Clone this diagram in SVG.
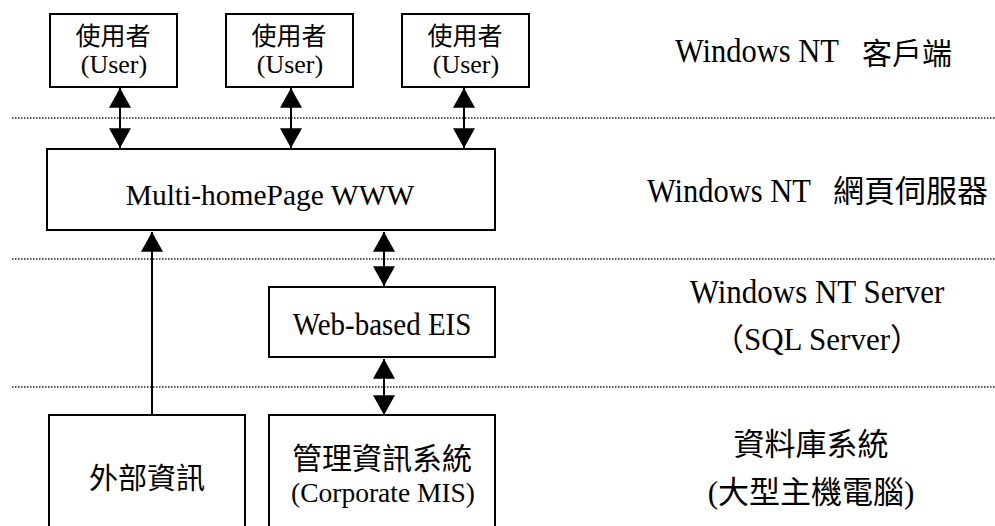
<svg xmlns="http://www.w3.org/2000/svg" width="995" height="526" viewBox="0 0 995 526">
<style>
.box{fill:#fff;stroke:#000;stroke-width:2}
.dot{stroke:#222;stroke-width:1.3;stroke-dasharray:1.5 1.5;fill:none}
.ln{stroke:#000;stroke-width:2;fill:none}
.lat{font-family:'Liberation Serif','Times New Roman',serif;fill:#000}
.cjk{font-family:'Noto Sans CJK TC','Noto Sans CJK SC',sans-serif;fill:#000}
.mid{text-anchor:middle}
</style>
<defs>
<marker id="ah" markerUnits="userSpaceOnUse" markerWidth="20" markerHeight="22" refX="18" refY="10" orient="auto-start-reverse" viewBox="0 0 18 20">
<path d="M0,0 L18,10 L0,20 Z" fill="#000"/>
</marker>
</defs>
<rect width="995" height="526" fill="#fff"/>
<g id="separators">
<line class="dot" x1="12" y1="118" x2="995" y2="118"/>
<line class="dot" x1="12" y1="259" x2="995" y2="259"/>
<line class="dot" x1="12" y1="387" x2="995" y2="387"/>
</g>
<g id="connectors">
<line class="ln" x1="120" y1="88" x2="120" y2="148" marker-start="url(#ah)" marker-end="url(#ah)"/>
<line class="ln" x1="291" y1="88" x2="291" y2="148" marker-start="url(#ah)" marker-end="url(#ah)"/>
<line class="ln" x1="464" y1="88" x2="464" y2="148" marker-start="url(#ah)" marker-end="url(#ah)"/>
<line class="ln" x1="384" y1="232" x2="384" y2="286" marker-start="url(#ah)" marker-end="url(#ah)"/>
<line class="ln" x1="384" y1="359" x2="384" y2="415" marker-start="url(#ah)" marker-end="url(#ah)"/>
<line class="ln" x1="152" y1="415" x2="152" y2="232" marker-end="url(#ah)"/>
</g>
<g id="user1">
<rect class="box" x="50" y="14" width="127" height="73"/>
<text class="cjk mid" x="113" y="45" font-size="25">使用者</text>
<text class="lat mid" x="114" y="73" font-size="26">(User)</text>
</g>
<g id="user2">
<rect class="box" x="226" y="14" width="127" height="73"/>
<text class="cjk mid" x="289" y="45" font-size="25">使用者</text>
<text class="lat mid" x="290" y="73" font-size="26">(User)</text>
</g>
<g id="user3">
<rect class="box" x="402" y="14" width="127" height="73"/>
<text class="cjk mid" x="465" y="45" font-size="25">使用者</text>
<text class="lat mid" x="466" y="73" font-size="26">(User)</text>
</g>
<g id="www">
<rect class="box" x="47" y="149" width="448" height="81"/>
<text class="lat mid" x="270" y="205" font-size="29.5">Multi-homePage WWW</text>
</g>
<g id="eis">
<rect class="box" x="269" y="287" width="226" height="70"/>
<text class="lat mid" font-size="29" transform="translate(382,335) scale(1,1.12)">Web-based EIS</text>
</g>
<g id="external">
<rect class="box" x="49" y="415" width="196" height="120"/>
<text class="cjk mid" x="147" y="489" font-size="29">外部資訊</text>
</g>
<g id="mis">
<rect class="box" x="269" y="415" width="226" height="120"/>
<text class="cjk mid" x="382" y="469" font-size="30">管理資訊系統</text>
<text class="lat mid" x="383" y="502" font-size="27.5">(Corporate MIS)</text>
</g>
<g id="labels">
<text class="lat" font-size="30.5" transform="translate(675,62) scale(1,1.08)">Windows NT</text>
<text class="cjk" x="862" y="64" font-size="30">客戶端</text>
<text class="lat" font-size="30.5" transform="translate(647,202) scale(1,1.08)">Windows NT</text>
<text class="cjk" x="833" y="202" font-size="31">網頁伺服器</text>
<text class="lat mid" font-size="31" transform="translate(817,303) scale(1,1.08)">Windows NT Server</text>
<text class="lat mid" x="817" y="350" font-size="31"><tspan class="cjk">（</tspan>SQL Server<tspan class="cjk">）</tspan></text>
<text class="cjk mid" x="811" y="455" font-size="31">資料庫系統</text>
<text class="lat mid" x="811" y="503" font-size="31">(<tspan class="cjk">大型主機電腦</tspan>)</text>
</g>
</svg>
